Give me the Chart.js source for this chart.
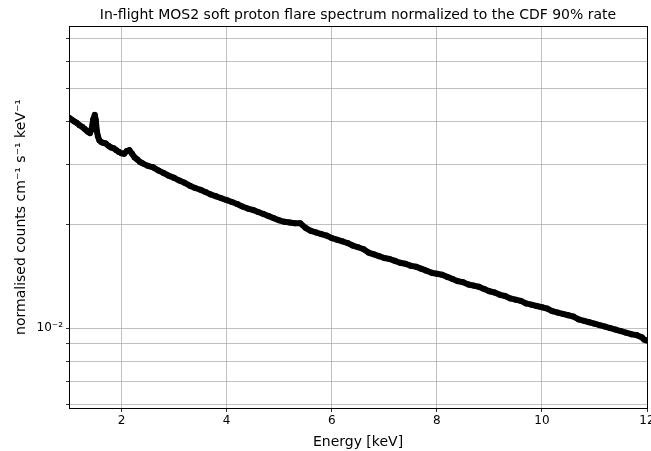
<!DOCTYPE html>
<html>
<head>
<meta charset="utf-8">
<title>MOS2 soft proton flare spectrum</title>
<script src="https://cdn.jsdelivr.net/npm/chart.js@4"></script>
<style>
  html, body { margin: 0; padding: 0; background: #fff; }
</style>
</head>
<body>
<canvas id="specChart" width="651" height="451"></canvas>
<script>
// Energia (keV) e spettro
const energy = [
  1.00, 1.05, 1.10, 1.15, 1.20, 1.25, 1.30, 1.35, 1.40, 1.43,
  1.46, 1.49, 1.51, 1.53, 1.55, 1.58, 1.62, 1.66, 1.70, 1.75,
  1.80, 1.85, 1.90, 1.95, 2.00, 2.05, 2.10, 2.15, 2.20, 2.25,
  2.30, 2.35, 2.40, 2.50, 2.60, 2.70, 2.80, 2.90, 3.00, 3.10,
  3.20, 3.30, 3.40, 3.50, 3.60, 3.70, 3.80, 3.90, 4.00, 4.10,
  4.20, 4.30, 4.40, 4.50, 4.60, 4.70, 4.80, 4.90, 5.00, 5.10,
  5.20, 5.30, 5.40, 5.50, 5.60, 5.70, 5.80, 5.90, 6.00, 6.10,
  6.20, 6.30, 6.40, 6.50, 6.60, 6.70, 6.80, 6.90, 7.00, 7.10,
  7.20, 7.30, 7.40, 7.50, 7.60, 7.70, 7.80, 7.90, 8.00, 8.10,
  8.20, 8.30, 8.40, 8.50, 8.60, 8.70, 8.80, 8.90, 9.00, 9.10,
  9.20, 9.30, 9.40, 9.50, 9.60, 9.70, 9.80, 9.90, 10.00, 10.10,
  10.20, 10.30, 10.40, 10.50, 10.60, 10.70, 10.80, 10.90, 11.00, 11.10,
  11.20, 11.30, 11.40, 11.50, 11.60, 11.70, 11.80, 11.90, 11.95, 12.00,
];

const flux = [
  0.0410, 0.0405, 0.0400, 0.0396, 0.0390, 0.0386, 0.0380, 0.0374, 0.0370, 0.0380,
  0.0405, 0.0418, 0.0403, 0.0375, 0.0362, 0.0352, 0.0348, 0.0346, 0.0345, 0.0340,
  0.0336, 0.0334, 0.0330, 0.0326, 0.0323, 0.0322, 0.0328, 0.0330, 0.0322, 0.0314,
  0.0310, 0.0305, 0.0302, 0.0297, 0.0294, 0.0288, 0.0283, 0.0278, 0.0274, 0.0269,
  0.0265, 0.0260, 0.0256, 0.0253, 0.0249, 0.0245, 0.0242, 0.0239, 0.0236, 0.0233,
  0.0230, 0.0226, 0.0223, 0.0221, 0.0218, 0.0215, 0.0212, 0.0209, 0.0206, 0.0204,
  0.0203, 0.0202, 0.0202, 0.0196, 0.0192, 0.0190, 0.0188, 0.0186, 0.0183, 0.0181,
  0.0179, 0.0177, 0.0174, 0.0172, 0.0170, 0.0166, 0.0164, 0.0162, 0.0160, 0.0159,
  0.0157, 0.0155, 0.0154, 0.0152, 0.0151, 0.0149, 0.0147, 0.0145, 0.0144, 0.0143,
  0.0141, 0.0139, 0.0137, 0.0136, 0.0134, 0.0133, 0.0132, 0.0130, 0.0128, 0.0127,
  0.0125, 0.0124, 0.0122, 0.0121, 0.0120, 0.0118, 0.0117, 0.0116, 0.0115, 0.0114,
  0.0112, 0.0111, 0.0110, 0.0109, 0.0108, 0.0106, 0.0105, 0.0104, 0.0103, 0.0102,
  0.0101, 0.0100, 0.0099, 0.0098, 0.0097, 0.0096, 0.00954, 0.0094, 0.00925, 0.0092,
];

// Tick dell'asse
const xTicks = [2, 4, 6, 8, 10, 12];
const yTicks = [0.006, 0.007, 0.008, 0.009, 0.01, 0.02, 0.03, 0.04, 0.05, 0.06, 0.07];

const titleText = "In-flight MOS2 soft proton flare spectrum normalized to the CDF 90% rate";

// cornice nera e titolo centrato sull'area del grafico
const framePlugin = {
  id: "frame",
  afterDraw(chart) {
    const a = chart.chartArea;
    const ctx = chart.ctx;
    ctx.save();
    ctx.strokeStyle = "#000";
    ctx.lineWidth = 1;
    ctx.strokeRect(a.left + 0.5, a.top + 0.5, a.right - a.left, a.bottom - a.top);
    ctx.fillStyle = "#000";
    ctx.font = "14px 'DejaVu Sans'";
    ctx.textAlign = "center";
    ctx.textBaseline = "alphabetic";
    ctx.fillText(titleText, (a.left + a.right) / 2, 19);
    ctx.restore();
  },
};

const points = energy.map((e, i) => ({ x: e, y: flux[i] }));

const ctx = document.getElementById("specChart").getContext("2d");
new Chart(ctx, {
  type: "line",
  data: {
    datasets: [
      {
        data: points,
        borderColor: "#000",
        backgroundColor: "#000",
        borderWidth: 6,
        borderJoinStyle: "round",
        borderCapStyle: "round",
        pointRadius: 3,
        pointBorderWidth: 0,
        tension: 0,
      },
    ],
  },
  options: {
    responsive: false,
    animation: false,
    layout: { padding: { left: 0, right: 4, top: 26, bottom: 0 } },
    plugins: {
      legend: { display: false },
      tooltip: { enabled: false },
      title: { display: false },
    },
    scales: {
      x: {
        type: "linear",
        min: 1,
        max: 12,
        afterBuildTicks: (scale) => {
          scale.ticks = xTicks.map((v) => ({ value: v }));
        },
        afterFit: (scale) => {
          scale.height = 43;
          scale.paddingRight = 0;
          scale.paddingLeft = 0;
        },
        ticks: {
          color: "#000",
          font: { family: "DejaVu Sans", size: 12 },
          padding: 2,
          maxRotation: 0,
          callback: (v) => String(v),
        },
        grid: { color: "#b0b0b0", lineWidth: 0.8, tickLength: 4, tickColor: "#000" },
        border: { display: false },
        title: {
          display: true,
          text: "Energy [keV]",
          color: "#000",
          font: { family: "DejaVu Sans", size: 14 },
          padding: { top: 1, bottom: 0 },
        },
      },
      y: {
        type: "logarithmic",
        min: 0.00585,
        max: 0.0759,
        afterBuildTicks: (scale) => {
          scale.ticks = yTicks.map((v) => ({ value: v }));
        },
        afterFit: (scale) => {
          scale.width = 69;
        },
        ticks: {
          color: "#000",
          font: { family: "DejaVu Sans", size: 12 },
          padding: 3,
          autoSkip: false,
          callback: (v) => (v === 0.01 ? "10\u207B\u00B2" : ""),
        },
        grid: { color: "#b0b0b0", lineWidth: 0.8, tickLength: 3, tickColor: "#000" },
        border: { display: false },
        title: {
          display: true,
          text: "normalised counts cm\u207B\u00B9 s\u207B\u00B9 keV\u207B\u00B9",
          color: "#000",
          font: { family: "DejaVu Sans", size: 14 },
          padding: { top: 13, bottom: 0 },
        },
      },
    },
  },
  plugins: [framePlugin],
});
</script>
</body>
</html>
